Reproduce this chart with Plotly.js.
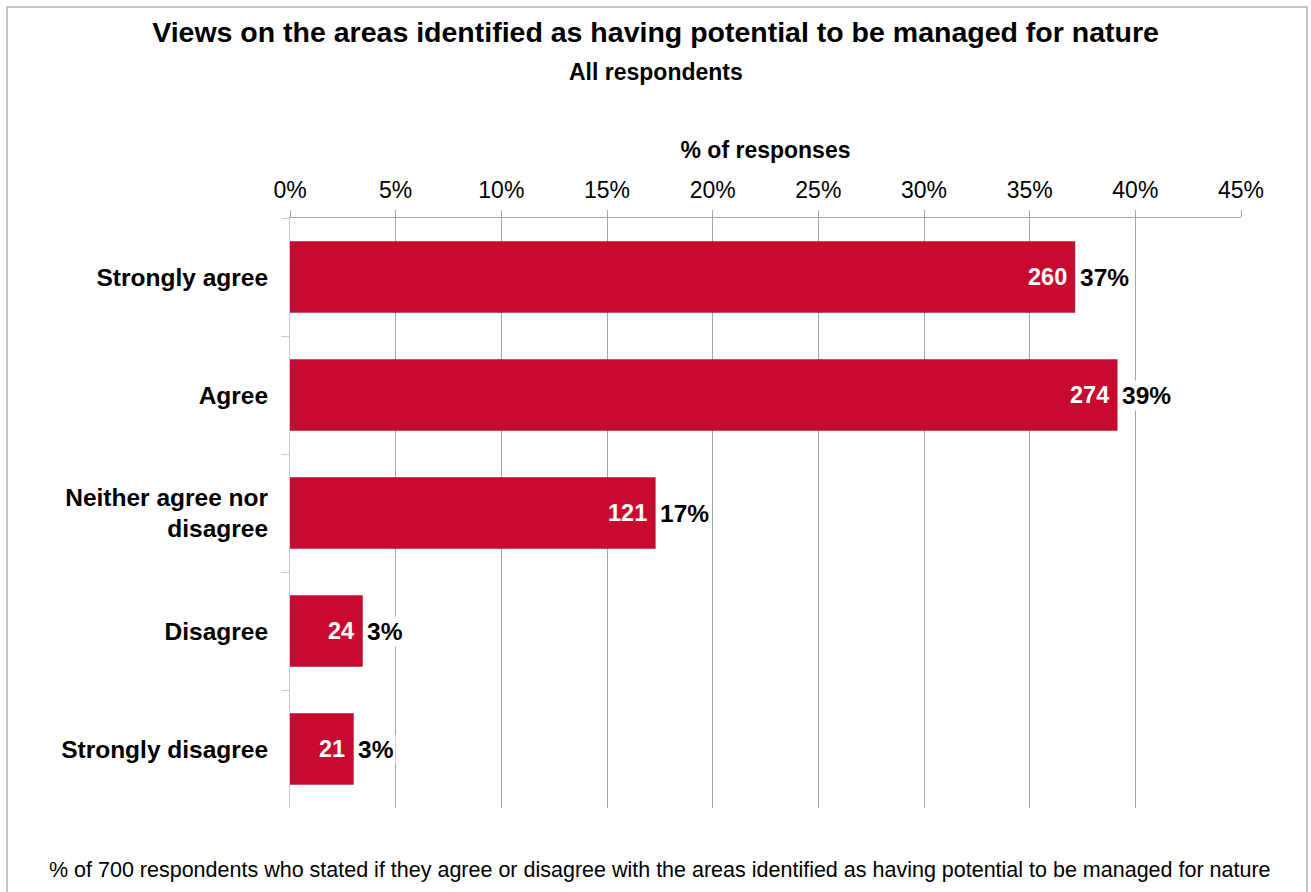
<!DOCTYPE html>
<html>
<head>
<meta charset="utf-8">
<script src="https://cdn.plot.ly/plotly-3.0.1.min.js"></script>
<style>
  html, body { margin: 0; padding: 0; background: #ffffff; }
  #chart { width: 1311px; height: 892px; }
</style>
</head>
<body>
<div id="chart"></div>
<script>
// Responses to the question on areas with potential to be managed for nature
const categories = ["Strongly agree", "Agree", "Neither agree nor<br>disagree", "Disagree", "Strongly disagree"];
const counts = [260, 274, 121, 24, 21];
const totalRespondents = 700;
const xTickValues = [0, 5, 10, 15, 20, 25, 30, 35, 40, 45];
const xTickLabels = ["0%", "5%", "10%", "15%", "20%", "25%", "30%", "35%", "40%", "45%"];

const percents = counts.map(c => c / totalRespondents * 100);
const percentLabels = percents.map(p => Math.round(p) + "%");

const FONT = "Liberation Sans, Arial, sans-serif";
const barColor = "#c80a30";

const trace = {
  type: "bar",
  orientation: "h",
  y: categories,
  x: percents,
  marker: { color: barColor, line: { color: "#b00828", width: 0.5 } },
  hoverinfo: "skip"
};

// Respondent counts, inside the end of each bar
const countAnnotations = percents.map((p, i) => ({
  x: p, y: categories[i], xref: "x", yref: "y",
  text: "<b>" + counts[i] + "</b>",
  showarrow: false,
  xanchor: "right", yanchor: "middle",
  xshift: -6,
  font: { family: FONT, size: 23.5, color: "#ffffff" }
}));

// Percentage labels just beyond the end of each bar
const pctAnnotations = percents.map((p, i) => ({
  x: p, y: categories[i], xref: "x", yref: "y",
  text: "<b>" + percentLabels[i] + "</b>",
  showarrow: false,
  xanchor: "left", yanchor: "middle",
  xshift: 3,
  bgcolor: "#ffffff",
  borderpad: 1,
  font: { family: FONT, size: 24.5, color: "#000000" }
}));

const layout = {
  width: 1311,
  height: 892,
  paper_bgcolor: "#ffffff",
  plot_bgcolor: "#ffffff",
  margin: { l: 290, r: 70, t: 218, b: 84 },
  showlegend: false,
  bargap: 0.40,
  title: {
    text: "<b>Views on the areas identified as having potential to be managed for nature</b>",
    font: { family: FONT, size: 28.5, color: "#000000" },
    x: 0.5, xanchor: "center",
    yref: "container", y: 1 - 32 / 892, yanchor: "middle"
  },
  xaxis: {
    side: "top",
    range: [0, 45],
    tickvals: xTickValues,
    ticktext: xTickLabels,
    tickfont: { family: FONT, size: 23, color: "#000000" },
    ticks: "outside",
    ticklen: 7,
    tickcolor: "#a6a6a6",
    ticklabelstandoff: 3,
    showgrid: true,
    gridcolor: "#a6a6a6",
    gridwidth: 1,
    zeroline: false,
    showline: true,
    linecolor: "#a6a6a6",
    linewidth: 1,
    fixedrange: true,
    title: {
      text: "<b>% of responses</b>",
      font: { family: FONT, size: 23, color: "#000000" },
      standoff: 11
    }
  },
  yaxis: {
    type: "category",
    autorange: "reversed",
    tickson: "boundaries",
    ticks: "outside",
    ticklen: 8,
    tickcolor: "#c8c8c8",
    showline: true,
    linecolor: "#c8c8c8",
    linewidth: 1,
    showgrid: false,
    zeroline: false,
    tickfont: { family: FONT, size: 24.5, color: "#000000", weight: "bold" },
    ticklabelstandoff: 16,
    fixedrange: true
  },
  annotations: [
    {
      text: "<b>All respondents</b>",
      xref: "paper", yref: "paper",
      x: (656 - 290) / 951, y: (808 - 72) / 590,
      xanchor: "center", yanchor: "middle",
      showarrow: false,
      font: { family: FONT, size: 23, color: "#000000" }
    },
    {
      text: "% of 700 respondents who stated if they agree or disagree with the areas identified as having potential to be managed for nature",
      xref: "paper", yref: "paper",
      x: (660 - 290) / 951, y: (808 - 870) / 590,
      xanchor: "center", yanchor: "middle",
      showarrow: false,
      font: { family: FONT, size: 21.5, color: "#000000" }
    }
  ].concat(countAnnotations, pctAnnotations),
  shapes: [
    {
      type: "rect", xref: "paper", yref: "paper", layer: "below",
      x0: (7 - 290) / 951, x1: (1307 - 290) / 951,
      y0: (808 - 905) / 590, y1: (808 - 7) / 590,
      line: { color: "#b4b4b4", width: 1.5 },
      fillcolor: "rgba(0,0,0,0)"
    }
  ]
};

Plotly.newPlot("chart", [trace], layout, { staticPlot: true, displayModeBar: false });
</script>
</body>
</html>
